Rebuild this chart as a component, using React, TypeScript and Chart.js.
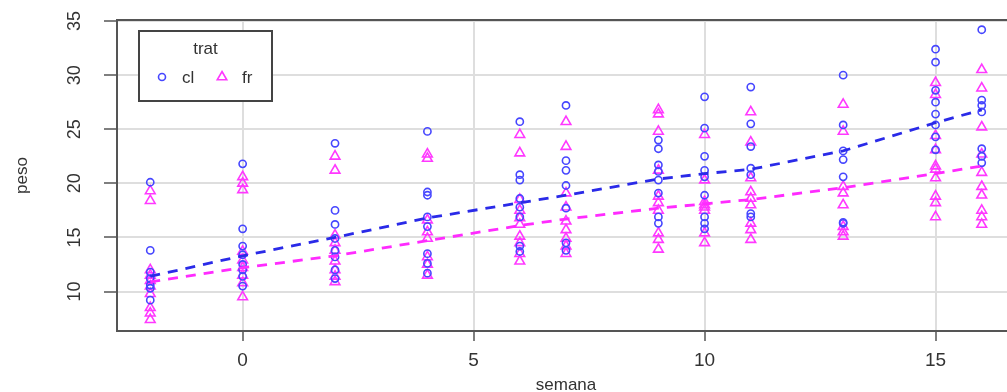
import React, { useEffect, useRef } from "react";
import { Chart, registerables } from "chart.js";

Chart.register(...registerables);

const weeks = [-2, 0, 2, 4, 6, 7, 9, 10, 11, 13, 15, 16];

const clPeso = [
  [20.1, 13.8, 11.8, 11.2, 10.6, 10.3, 9.2],
  [21.8, 15.8, 14.2, 13.4, 12.5, 12.0, 11.4, 10.5],
  [23.7, 17.5, 16.2, 14.9, 13.8, 13.2, 12.0, 11.2],
  [24.8, 19.2, 18.9, 16.9, 16.0, 13.5, 12.6, 11.7],
  [25.7, 20.8, 20.3, 18.6, 17.8, 16.9, 14.2, 13.7],
  [27.2, 22.1, 21.2, 19.8, 17.7, 14.5, 13.8],
  [24.0, 23.2, 21.7, 21.1, 20.3, 19.1, 16.9, 16.3],
  [28.0, 25.1, 22.5, 21.2, 20.6, 18.9, 16.9, 16.3, 15.8],
  [28.9, 25.5, 23.4, 21.4, 20.8, 17.2, 16.9],
  [30.0, 25.4, 23.0, 22.2, 20.6, 16.4, 16.3],
  [32.4, 31.2, 28.6, 27.5, 26.4, 25.4, 24.3, 23.1],
  [34.2, 27.7, 27.2, 26.6, 23.2, 22.5, 21.9],
];

const frPeso = [
  [19.3, 18.4, 12.0, 11.5, 11.0, 10.5, 9.8, 8.5, 8.0, 7.4],
  [20.6, 20.0, 19.4, 13.7, 12.9, 12.2, 11.5, 10.8, 9.5],
  [22.5, 21.2, 15.2, 14.5, 13.8, 12.8, 12.0, 11.4, 10.9],
  [22.7, 22.3, 16.6, 15.5, 14.9, 13.2, 12.5, 11.5],
  [24.5, 22.8, 18.5, 17.5, 16.8, 16.2, 15.1, 14.5, 13.5, 12.8],
  [25.7, 23.4, 19.1, 17.8, 16.5, 15.7, 14.9, 14.2, 13.5],
  [26.8, 26.4, 24.8, 21.2, 18.8, 18.2, 17.5, 15.4, 14.8, 13.9],
  [24.5, 20.3, 18.3, 18.0, 17.8, 17.5, 15.4, 14.5],
  [26.6, 23.8, 20.5, 19.2, 18.6, 18.0, 16.3, 15.7, 14.8],
  [27.3, 24.8, 19.7, 19.1, 18.0, 16.0, 15.5, 15.1],
  [29.3, 28.2, 24.4, 23.1, 21.6, 21.3, 20.5, 18.8, 18.2, 16.9],
  [30.5, 28.8, 25.2, 22.7, 21.0, 19.7, 18.9, 17.5, 16.9, 16.2],
];

const clFit = [11.4, 13.3, 15.0, 16.8, 18.2, 18.9, 20.4, 20.9, 21.3, 23.0, 25.6, 26.8];
const frFit = [10.9, 12.2, 13.3, 14.7, 16.1, 16.7, 17.7, 18.1, 18.5, 19.6, 20.9, 21.6];

const xTicks = [0, 5, 10, 15];
const yTicks = [10, 15, 20, 25, 30, 35];
const groups = ["cl", "fr"];
const legendTitle = "trat";
const xTitle = "semana";
const yTitle = "peso";

const BLUE_PT = "#4646ff";
const MAG_PT = "#ff38ff";
const BLUE_LN = "#2a2ae8";
const MAG_LN = "#ff2bff";
const FONT = "'Liberation Sans', Arial, sans-serif";

function toPoints(ws: number[], vals: number[][]) {
  const out: { x: number; y: number }[] = [];
  ws.forEach((w, i) => vals[i].forEach((v) => out.push({ x: w, y: v })));
  return out;
}

const decor = {
  id: "decor",
  afterDraw(chart: any) {
    const { ctx, chartArea } = chart;
    const ys = chart.scales.y;
    ctx.save();
    ctx.strokeStyle = "#555";
    ctx.lineWidth = 2;
    ctx.strokeRect(chartArea.left, chartArea.top, chartArea.right - chartArea.left, chartArea.bottom - chartArea.top);
    ctx.fillStyle = "#333";
    ctx.font = `18px ${FONT}`;
    ctx.textAlign = "center";
    ctx.textBaseline = "middle";
    yTicks.forEach((v) => {
      const y = ys.getPixelForValue(v);
      ctx.save();
      ctx.translate(75, y);
      ctx.rotate(-Math.PI / 2);
      ctx.fillText(String(v), 0, 0);
      ctx.restore();
    });
    ctx.font = `17px ${FONT}`;
    ctx.save();
    ctx.translate(22, (chartArea.top + chartArea.bottom) / 2);
    ctx.rotate(-Math.PI / 2);
    ctx.fillText(yTitle, 0, 0);
    ctx.restore();
    ctx.fillText(xTitle, (chartArea.left + chartArea.right) / 2, 385);
    const lx = 139, ly = 31, lw = 133, lh = 70;
    ctx.fillStyle = "#fff";
    ctx.fillRect(lx, ly, lw, lh);
    ctx.strokeStyle = "#444";
    ctx.lineWidth = 2;
    ctx.strokeRect(lx, ly, lw, lh);
    ctx.fillStyle = "#333";
    ctx.font = `17px ${FONT}`;
    ctx.textAlign = "center";
    ctx.fillText(legendTitle, lx + lw / 2, 49);
    ctx.textAlign = "left";
    ctx.strokeStyle = BLUE_PT;
    ctx.lineWidth = 1.6;
    ctx.beginPath();
    ctx.arc(162, 77, 3.5, 0, Math.PI * 2);
    ctx.stroke();
    ctx.fillText(groups[0], 182, 78);
    ctx.strokeStyle = MAG_PT;
    ctx.beginPath();
    const r = 5.5, cx = 222, cy = 77;
    ctx.moveTo(cx, cy - r);
    ctx.lineTo(cx + r * 0.866, cy + r * 0.5);
    ctx.lineTo(cx - r * 0.866, cy + r * 0.5);
    ctx.closePath();
    ctx.stroke();
    ctx.fillText(groups[1], 242, 78);
    ctx.restore();
  },
};

export default function App() {
  const ref = useRef<HTMLCanvasElement | null>(null);
  useEffect(() => {
    if (!ref.current) return;
    const chart = new Chart(ref.current, {
      type: "scatter",
      data: {
        datasets: [
          {
            type: "line",
            label: "cl fit",
            data: weeks.map((w, i) => ({ x: w, y: clFit[i] })),
            borderColor: BLUE_LN,
            borderWidth: 2.8,
            borderDash: [10, 8],
            pointRadius: 0,
            fill: false,
          } as any,
          {
            type: "line",
            label: "fr fit",
            data: weeks.map((w, i) => ({ x: w, y: frFit[i] })),
            borderColor: MAG_LN,
            borderWidth: 2.8,
            borderDash: [10, 8],
            pointRadius: 0,
            fill: false,
          } as any,
          {
            label: groups[0],
            data: toPoints(weeks, clPeso),
            pointStyle: "circle",
            pointRadius: 3.6,
            borderWidth: 1.6,
            borderColor: BLUE_PT,
            backgroundColor: "rgba(0,0,0,0)",
          },
          {
            label: groups[1],
            data: toPoints(weeks, frPeso),
            pointStyle: "triangle",
            pointRadius: 5.6,
            borderWidth: 1.6,
            borderColor: MAG_PT,
            backgroundColor: "rgba(0,0,0,0)",
          },
        ],
      },
      options: {
        animation: false,
        responsive: false,
        devicePixelRatio: 1,
        layout: { padding: { top: 20, right: 25, left: 0, bottom: 0 } },
        plugins: { legend: { display: false }, tooltip: { enabled: false } },
        scales: {
          x: {
            type: "linear",
            min: -2.72,
            max: 16.72,
            afterBuildTicks: (s: any) => {
              s.ticks = xTicks.map((v) => ({ value: v }));
            },
            afterFit: (s: any) => {
              s.height = 61;
            },
            ticks: {
              font: { family: FONT, size: 19 },
              color: "#333",
              padding: 8,
              maxRotation: 0,
            },
            grid: {
              color: "#dedede",
              lineWidth: 2,
              drawTicks: true,
              tickLength: 10,
              tickColor: "#555",
              tickWidth: 1.5,
            },
            border: { display: false },
          },
          y: {
            type: "linear",
            min: 6.35,
            max: 35.1,
            afterBuildTicks: (s: any) => {
              s.ticks = yTicks.map((v) => ({ value: v }));
            },
            afterFit: (s: any) => {
              s.width = 117;
            },
            ticks: { display: false },
            grid: {
              color: "#dedede",
              lineWidth: 2,
              drawTicks: true,
              tickLength: 13,
              tickColor: "#555",
              tickWidth: 1.5,
            },
            border: { display: false },
          },
        },
      },
      plugins: [decor],
    });
    return () => chart.destroy();
  }, []);
  return (
    <div
      style={{
        position: "fixed",
        left: 0,
        top: 0,
        width: 1007,
        height: 392,
        overflow: "hidden",
        background: "#fff",
      }}
    >
      <canvas ref={ref} width={1040} height={392} style={{ display: "block" }} />
    </div>
  );
}
